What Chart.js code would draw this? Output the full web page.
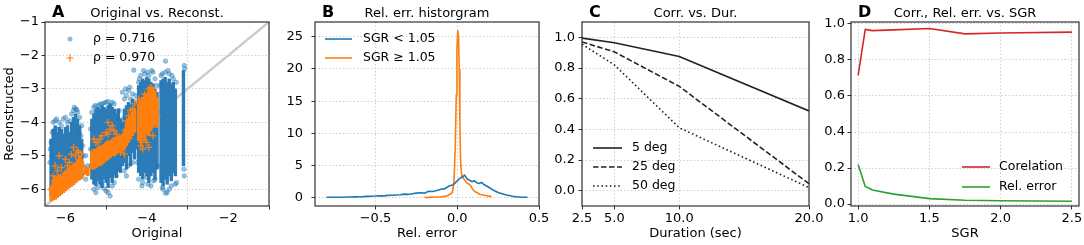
<!DOCTYPE html>
<html>
<head>
<meta charset="utf-8">
<script src="https://cdn.jsdelivr.net/npm/chart.js@4.4.1/dist/chart.umd.min.js"></script>
<style>
  body { margin: 0; background: #fff; width: 1084px; height: 245px; overflow: hidden; position: relative; }
  canvas { position: absolute; top: 0; }
</style>
</head>
<body>
<canvas id="cA" width="275" height="245" style="left:0"></canvas>
<canvas id="cB" width="285" height="245" style="left:272px"></canvas>
<canvas id="cC" width="285" height="245" style="left:540px"></canvas>
<canvas id="cD" width="274" height="245" style="left:810px"></canvas>
<script>
// ---- A: original vs reconstructed (dense columns + scattered points) ----
const blueBandX  = [-6.35,-6.3,-6.25,-6.2,-6.15,-6.1,-6.05,-6.0,-5.95,-5.9,-5.85,-5.8,-5.75,-5.7,-5.65,-5.6,
                    -5.35,-5.3,-5.25,-5.2,-5.15,-5.1,-5.05,-5.0,-4.95,-4.9,-4.85,-4.8,-4.75,-4.7,-4.65,-4.6,
                    -4.55,-4.5,-4.45,-4.4,-4.35,-4.3,-4.25,
                    -4.2,-4.15,-4.1,-4.05,-4.0,-3.95,-3.9,-3.85,-3.8,-3.75,
                    -3.65,-3.6,-3.55,-3.5,-3.45,-3.4,-3.35,-3.3, -3.1];
const blueBandLo = [-6.2,-6.25,-6.25,-6.2,-6.15,-6.1,-6.1,-6.0,-5.95,-5.9,-5.9,-5.85,-5.8,-5.7,-5.7,-5.65,
                    -5.7,-5.85,-5.9,-5.75,-5.85,-5.95,-5.7,-5.8,-5.95,-5.65,-5.8,-5.55,-5.65,-5.45,-5.5,-5.3,
                    -5.2,-5.4,-5.0,-5.3,-4.9,-5.1,-4.8,
                    -5.5,-5.6,-5.7,-5.5,-5.6,-5.8,-5.6,-5.5,-5.7,-5.4,
                    -5.8,-5.9,-5.7,-5.85,-5.6,-5.75,-5.5,-5.6, -5.3];
const blueBandHi = [-4.5,-4.2,-4.1,-4.3,-4.15,-4.2,-4.35,-4.15,-4.1,-4.3,-4.0,-3.85,-3.75,-3.9,-4.1,-4.5,
                    -3.9,-3.75,-3.6,-3.55,-3.6,-3.5,-3.55,-3.6,-3.5,-3.45,-3.55,-3.6,-3.75,-3.6,-3.9,-4.0,
                    -3.6,-3.5,-3.4,-3.45,-3.3,-3.5,-3.4,
                    -2.9,-2.8,-2.7,-2.75,-2.65,-2.7,-2.8,-2.85,-3.0,-3.1,
                    -2.75,-2.7,-2.65,-2.8,-2.7,-2.85,-2.8,-3.0, -2.45];
const orangeBandX  = [-6.35,-6.3,-6.25,-6.2,-6.15,-6.1,-6.05,-6.0,-5.95,-5.9,-5.85,-5.8,-5.75,-5.7,-5.65,-5.6,
                      -5.5,-5.45,
                      -5.35,-5.3,-5.25,-5.2,-5.15,-5.1,-5.05,-5.0,-4.95,-4.9,-4.85,-4.8,-4.75,-4.7,-4.65,-4.6,
                      -4.55,-4.5,-4.45,-4.4,-4.35,-4.3,
                      -4.2,-4.15,-4.1,-4.05,-4.0,-3.95,-3.9,-3.85,-3.8,-3.75];
const orangeBandLo = [-6.35,-6.32,-6.3,-6.25,-6.2,-6.15,-6.1,-6.05,-6.0,-5.95,-5.9,-5.85,-5.8,-5.75,-5.72,-5.68,
                      -5.55,-5.6,
                      -5.4,-5.4,-5.35,-5.3,-5.3,-5.25,-5.2,-5.15,-5.1,-5.05,-5.0,-5.0,-4.95,-4.9,-4.9,-4.85,
                      -4.8,-4.7,-4.6,-4.5,-4.4,-4.3,
                      -4.55,-4.6,-4.45,-4.55,-4.35,-4.4,-4.25,-4.15,-4.05,-4.15];
const orangeBandHi = [-5.9,-5.7,-5.6,-5.65,-5.55,-5.6,-5.5,-5.45,-5.4,-5.35,-5.3,-5.25,-5.2,-5.1,-5.0,-5.1,
                      -5.3,-5.35,
                      -4.85,-4.8,-4.8,-4.75,-4.7,-4.7,-4.65,-4.6,-4.55,-4.55,-4.5,-4.45,-4.45,-4.4,-4.4,-4.35,
                      -4.2,-4.0,-3.9,-3.8,-3.7,-3.6,
                      -3.45,-3.35,-3.25,-3.15,-3.15,-3.05,-3.0,-2.95,-3.05,-3.25];
const bluePtsX = [-6.3,-6.25,-6.2,-6.1,-6.05,-5.95,-5.85,-5.8,-5.75,-5.7,-5.65,-5.6,-5.62,-5.58,-6.35,-6.33,-6.3,
                  -6.38,-6.37,-6.32,-6.22,-6.15,-6.0,-5.9,-5.78,-5.72,-5.66,-5.57,-5.57,-5.6,
                  -5.5,-5.45,-5.5,
                  -5.35,-5.3,-5.2,-5.1,-5.0,-4.9,-4.8,-4.75,-4.7,-4.65,-5.3,-5.2,-5.0,-4.9,-4.85,-5.1,-4.75,-4.7,
                  -5.38,-5.38,-5.37,-5.27,-5.15,-5.05,-4.95,-4.85,-4.68,-4.62,-4.6,-5.25,-5.05,-4.95,-4.8,
                  -4.6,-4.55,-4.5,-4.45,-4.4,-4.35,-4.3,-4.55,-4.5,-4.45,-4.35,-4.32,
                  -4.58,-4.52,-4.42,-4.27,-4.22,-4.23,
                  -4.2,-4.15,-4.05,-3.95,-3.85,-3.8,-4.2,-4.1,-4.0,-3.9,-3.8,
                  -4.18,-4.08,-3.98,-3.88,-3.77,-4.12,-3.97,-3.83,-3.73,
                  -3.65,-3.55,-3.45,-3.35,-3.54,-3.6,-3.5,-3.54,-3.4,-3.3,
                  -3.68,-3.62,-3.48,-3.38,-3.28,-3.27,-3.45,-3.62,
                  -3.08,-3.07,-3.09,-3.08];
const bluePtsY = [-4.0,-3.95,-4.2,-4.1,-3.9,-4.0,-3.75,-3.65,-3.6,-3.7,-3.85,-4.1,-4.4,-4.7,-4.6,-5.0,-5.5,
                  -5.2,-4.8,-4.3,-3.9,-4.0,-3.85,-3.95,-3.55,-3.62,-4.3,-5.0,-5.3,-5.55,
                  -5.0,-5.3,-5.7,
                  -3.7,-3.55,-3.5,-3.45,-3.4,-3.5,-3.45,-3.7,-3.9,-4.1,-6.0,-5.95,-6.05,-6.2,-5.9,-5.85,-5.6,-5.4,
                  -4.2,-4.8,-5.3,-3.5,-3.45,-3.42,-3.38,-3.4,-3.65,-4.5,-5.0,-6.1,-5.98,-6.1,-5.8,
                  -3.1,-3.3,-3.2,-3.05,-3.3,-3.15,-3.4,-5.45,-5.6,-5.3,-5.2,-2.44,
                  -3.9,-3.0,-2.95,-3.2,-3.6,-5.2,
                  -2.8,-2.6,-2.55,-2.6,-2.5,-2.7,-5.7,-5.8,-5.65,-5.9,-5.7,
                  -2.7,-2.45,-2.5,-2.45,-2.9,-5.9,-5.85,-5.75,-5.3,
                  -2.6,-2.5,-2.55,-2.7,-2.17,-6.0,-6.1,-6.12,-5.9,-5.85,
                  -2.9,-2.55,-2.45,-2.6,-2.8,-5.8,-6.0,-5.95,
                  -2.3,-2.4,-5.4,-5.6];
const orangePtsX = [-6.35,-6.3,-6.25,-6.15,-6.0,-5.95,-5.85,-5.8,-5.75,-5.7,-5.65,-5.6,-5.5,-5.45,
                    -5.3,-5.2,-5.1,-5.0,-4.95,-4.9,-4.85,-4.75,-4.7,-4.65,-4.55,-4.5,-4.4,-4.3,
                    -4.2,-4.15,-4.1,-4.0,-3.95,-3.9,-3.85,-3.8,-3.75,
                    -6.28,-6.2,-6.1,-5.9,-5.68,-5.62,-5.25,-5.15,-4.95,-4.8,-4.6,-4.45,-4.35,
                    -4.18,-4.05,-3.95,-4.12,-3.85,-3.78];
const orangePtsY = [-6.0,-5.6,-5.3,-5.0,-5.1,-5.3,-4.95,-4.75,-5.0,-4.85,-5.5,-4.95,-5.45,-5.5,
                    -4.5,-4.6,-4.4,-4.3,-4.0,-4.2,-4.1,-4.35,-4.8,-4.9,-4.95,-3.95,-3.65,-3.45,
                    -3.3,-4.7,-4.8,-4.6,-4.75,-2.95,-3.1,-3.6,-3.8,
                    -5.9,-5.45,-5.35,-5.2,-4.9,-5.2,-4.6,-4.5,-4.35,-4.25,-4.55,-3.8,-3.6,
                    -3.4,-3.15,-3.0,-4.6,-4.4,-3.4];
const rhoLabels = ['ρ = 0.716', 'ρ = 0.970'];

// ---- B: relative error histogram ----
const relErrLow  = [-0.80,-0.775,-0.75,-0.725,-0.70,-0.675,-0.65,-0.625,-0.60,-0.575,-0.55,-0.525,-0.50,-0.475,-0.45,
                    -0.425,-0.40,-0.375,-0.35,-0.325,-0.30,-0.275,-0.25,-0.225,-0.20,-0.175,-0.15,-0.125,-0.10,-0.075,
                    -0.05,-0.025,0.0,0.015,0.03,0.045,0.06,0.075,0.09,0.105,0.12,0.135,0.15,0.165,0.18,0.20,0.225,
                    0.25,0.275,0.30,0.325,0.35,0.375,0.40,0.43];
const densLow    = [0.05,0.05,0.06,0.07,0.07,0.1,0.1,0.12,0.14,0.15,0.2,0.22,0.25,0.3,0.28,
                    0.35,0.38,0.42,0.45,0.55,0.5,0.6,0.7,0.75,0.7,1.0,0.95,1.1,1.3,1.4,
                    1.8,2.0,2.6,3.0,3.2,3.5,2.9,2.7,2.5,2.6,2.3,2.2,2.35,2.0,1.8,1.5,1.1,
                    0.8,0.6,0.4,0.3,0.15,0.1,0.05,0.05];
const relErrHigh = [-0.2,-0.18,-0.16,-0.14,-0.12,-0.1,-0.08,-0.06,-0.04,-0.03,-0.02,-0.012,-0.006,-0.002,0.003,
                    0.008,0.012,0.016,0.02,0.025,0.03,0.04,0.05,0.06,0.07,0.08,0.09,0.1,0.11,0.12,0.14,0.16,
                    0.18,0.2,0.21];
const densHigh   = [0.05,0.0,0.1,0.05,0.1,0.1,0.2,0.3,0.6,0.8,2.5,8,16,23,26,
                    25,20,12,6,4,3.3,2.9,2.6,2.3,2.1,1.9,1.5,1.1,0.9,0.8,0.5,0.4,
                    0.3,0.2,0.2];
const sgrLabels = ['SGR < 1.05', 'SGR ≥ 1.05'];

// ---- C: correlation vs duration ----
const durations = [2.5, 5, 10, 20];
const corr5  = [0.995, 0.965, 0.875, 0.52];
const corr25 = [0.97, 0.905, 0.68, 0.045];
const corr50 = [0.955, 0.82, 0.41, 0.02];
const degLabels = ['5 deg', '25 deg', '50 deg'];

// ---- D: correlation / rel. error vs SGR ----
const sgr    = [1.0, 1.05, 1.1, 1.25, 1.5, 1.75, 2.0, 2.5];
const corrD  = [0.715, 0.97, 0.963, 0.967, 0.975, 0.945, 0.95, 0.955];
const errD   = [0.22, 0.098, 0.078, 0.055, 0.03, 0.021, 0.018, 0.015];

const FONT = 'DejaVu Sans';
Chart.defaults.font.family = FONT;
Chart.defaults.color = '#000';

const BLUE = '#1f77b4', ORANGE = '#ff7f0e', RED = '#d62728', GREEN = '#2ca02c', INK = '#222';
const pts = (xs, ys) => xs.map((x, i) => ({x, y: ys[i]}));
const bands = (xs, lo, hi) => xs.map((x, i) => ({x, y: [lo[i], hi[i]]}));
const minus = s => s.replace('-', '\u2212');
const fmtInt = v => minus(String(v));
const fmt1 = v => minus(v.toFixed(1));

// titles, panel letters, box frame and in-axes legends
const panelDecor = {
  id: 'panelDecor',
  afterDatasetsDraw(chart, args, o) {
    const {ctx, chartArea: a} = chart;
    ctx.save();
    ctx.strokeStyle = '#333';
    ctx.lineWidth = 1.2;
    ctx.strokeRect(a.left, a.top, a.right - a.left, a.bottom - a.top);

    ctx.fillStyle = '#000';
    ctx.textBaseline = 'alphabetic';
    ctx.font = `13px ${FONT}`;
    ctx.textAlign = 'center';
    ctx.fillText(o.title, (a.left + a.right) / 2, 16.5);
    ctx.font = `bold 16px ${FONT}`;
    ctx.textAlign = 'left';
    ctx.fillText(o.letter, a.left + 7, 16.5);

    ctx.font = `12.5px ${FONT}`;
    ctx.textBaseline = 'middle';
    (o.legend || []).forEach((it, i) => {
      const y = o.legendY + i * o.legendDy;
      if (it.kind === 'dot') {
        ctx.fillStyle = 'rgba(31,119,180,0.5)';
        ctx.beginPath(); ctx.arc(o.markX, y, 2.5, 0, Math.PI * 2); ctx.fill();
      } else if (it.kind === 'cross') {
        ctx.strokeStyle = it.color; ctx.lineWidth = 1.2;
        ctx.beginPath();
        ctx.moveTo(o.markX - 3.5, y); ctx.lineTo(o.markX + 3.5, y);
        ctx.moveTo(o.markX, y - 3.5); ctx.lineTo(o.markX, y + 3.5);
        ctx.stroke();
      } else {
        ctx.strokeStyle = it.color; ctx.lineWidth = 1.6;
        ctx.setLineDash(it.dash || []);
        ctx.beginPath(); ctx.moveTo(o.lineX0, y); ctx.lineTo(o.lineX1, y); ctx.stroke();
        ctx.setLineDash([]);
      }
      ctx.fillStyle = '#000';
      ctx.fillText(it.text, o.textX, y);
    });
    ctx.restore();
  }
};

const ticksAt = values => scale => { scale.ticks = values.map(v => ({value: v})); };
const gridOpts = {color: '#cfcfcf', lineWidth: 1, tickColor: '#333', tickLength: 3.5, tickWidth: 1, tickBorderDash: []};

function xAxis(min, max, ticks, fmt, title) {
  return {
    type: 'linear', position: 'bottom', min, max, offset: false,
    afterBuildTicks: ticksAt(ticks),
    afterFit: s => { s.height = 39; s.paddingLeft = 0; s.paddingRight = 0; },
    ticks: {callback: fmt, autoSkip: false, maxRotation: 0, padding: 1.5, font: {size: 13}, color: '#000'},
    grid: gridOpts,
    border: {display: false, dash: [1.5, 2]},
    title: {display: true, text: title, font: {size: 13}, color: '#000', padding: {top: 0, bottom: 3.5}}
  };
}

function yAxis(min, max, ticks, fmt, title, width, pad) {
  return {
    type: 'linear', position: 'left', min, max,
    afterBuildTicks: ticksAt(ticks),
    afterFit: s => { s.width = width; s.paddingTop = 0; s.paddingBottom = 0; },
    ticks: {callback: fmt, autoSkip: false, padding: pad, font: {size: 13}, color: '#000'},
    grid: gridOpts,
    border: {display: false, dash: [1.5, 2]},
    title: {display: !!title, text: title || '', font: {size: 13}, color: '#000', padding: {top: 2, bottom: 0}}
  };
}

function baseOptions(padRight, decor, scales) {
  return {
    responsive: false, animation: false, devicePixelRatio: 1,
    layout: {padding: {left: 0, top: 22, right: padRight, bottom: 0}},
    plugins: {legend: {display: false}, tooltip: {enabled: false}, panelDecor: decor},
    scales
  };
}

// Panel A
new Chart(document.getElementById('cA'), {
  type: 'scatter',
  plugins: [panelDecor],
  data: {
    datasets: [
      {type: 'line', data: [{x: -7, y: -7}, {x: 0, y: 0}], borderColor: '#cbcbcb', borderWidth: 2.5, pointRadius: 0, order: 10},
      {type: 'bar', data: bands(blueBandX, blueBandLo, blueBandHi), backgroundColor: 'rgb(44,124,184)',
       borderWidth: 0, grouped: false, barThickness: 2.8, order: 8},
      {data: pts(bluePtsX, bluePtsY), pointRadius: 2.3, backgroundColor: 'rgba(31,119,180,0.45)',
       borderColor: 'rgba(31,119,180,0.5)', borderWidth: 0.6, order: 7},
      {type: 'bar', data: bands(orangeBandX, orangeBandLo, orangeBandHi), backgroundColor: ORANGE,
       borderWidth: 0, grouped: false, barThickness: 2.8, order: 6},
      {data: pts(orangePtsX, orangePtsY), pointStyle: 'cross', pointRadius: 3.5, borderColor: ORANGE, borderWidth: 1.3, order: 5}
    ]
  },
  options: baseOptions(6, {
    title: 'Original vs. Reconst.', letter: 'A',
    legend: [{kind: 'dot', text: rhoLabels[0]}, {kind: 'cross', color: ORANGE, text: rhoLabels[1]}],
    legendY: 39, legendDy: 19, markX: 70, textX: 93
  }, {
    x: xAxis(-6.5, -1, [-6, -4, -2], fmtInt, 'Original'),
    y: yAxis(-6.5, -1, [-6, -5, -4, -3, -2, -1], fmtInt, 'Reconstructed', 45, 2.5)
  })
});

// Panel B
new Chart(document.getElementById('cB'), {
  type: 'line',
  plugins: [panelDecor],
  data: {
    datasets: [
      {data: pts(relErrLow, densLow), borderColor: BLUE, borderWidth: 1.6, pointRadius: 0, tension: 0},
      {data: pts(relErrHigh, densHigh), borderColor: ORANGE, borderWidth: 1.6, pointRadius: 0, tension: 0}
    ]
  },
  options: baseOptions(18, {
    title: 'Rel. err. historgram', letter: 'B',
    legend: [{kind: 'line', color: BLUE, text: sgrLabels[0]}, {kind: 'line', color: ORANGE, text: sgrLabels[1]}],
    legendY: 39, legendDy: 19, lineX0: 53, lineX1: 80, textX: 91
  }, {
    x: xAxis(-0.87, 0.5, [-0.5, 0, 0.5], fmt1, 'Rel. error'),
    y: yAxis(-1.3, 27.3, [0, 5, 10, 15, 20, 25], fmtInt, '', 43, 8.5)
  })
});

// Panel C
new Chart(document.getElementById('cC'), {
  type: 'line',
  plugins: [panelDecor],
  data: {
    datasets: [
      {data: pts(durations, corr5), borderColor: INK, borderWidth: 1.6, pointRadius: 0},
      {data: pts(durations, corr25), borderColor: INK, borderWidth: 1.6, borderDash: [5.5, 2.5], pointRadius: 0},
      {data: pts(durations, corr50), borderColor: INK, borderWidth: 1.6, borderDash: [1.6, 2.6], pointRadius: 0}
    ]
  },
  options: baseOptions(16, {
    title: 'Corr. vs. Dur.', letter: 'C',
    legend: [
      {kind: 'line', color: INK, text: degLabels[0]},
      {kind: 'line', color: INK, dash: [5.5, 2.5], text: degLabels[1]},
      {kind: 'line', color: INK, dash: [1.6, 2.6], text: degLabels[2]}
    ],
    legendY: 148, legendDy: 19, lineX0: 53, lineX1: 82, textX: 92
  }, {
    x: xAxis(2.5, 20, durations, fmt1, 'Duration (sec)'),
    y: yAxis(-0.1, 1.1, [0, 0.2, 0.4, 0.6, 0.8, 1.0], fmt1, '', 42, 3.5)
  })
});

// Panel D
new Chart(document.getElementById('cD'), {
  type: 'line',
  plugins: [panelDecor],
  data: {
    datasets: [
      {data: pts(sgr, corrD), borderColor: RED, borderWidth: 1.6, pointRadius: 0},
      {data: pts(sgr, errD), borderColor: GREEN, borderWidth: 1.6, pointRadius: 0}
    ]
  },
  options: baseOptions(5, {
    title: 'Corr., Rel. err. vs. SGR', letter: 'D',
    legend: [{kind: 'line', color: RED, text: 'Corelation'}, {kind: 'line', color: GREEN, text: 'Rel. error'}],
    legendY: 167, legendDy: 20, lineX0: 152, lineX1: 180, textX: 189
  }, {
    x: xAxis(0.95, 2.55, [1.0, 1.5, 2.0, 2.5], fmt1, 'SGR'),
    y: yAxis(-0.011, 1.011, [0, 0.2, 0.4, 0.6, 0.8, 1.0], fmt1, '', 41, 2.5)
  })
});
</script>
</body>
</html>
